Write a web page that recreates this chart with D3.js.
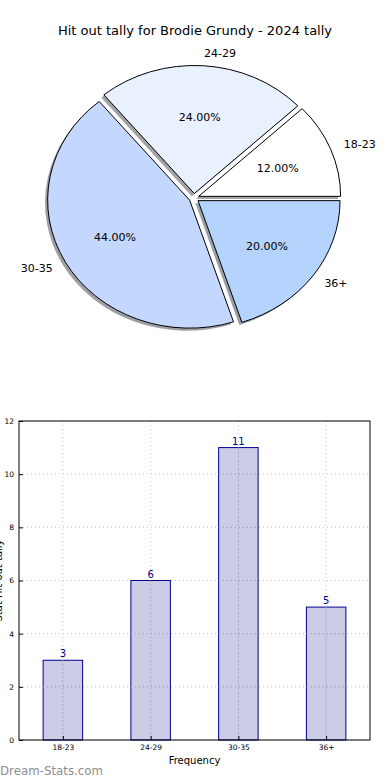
<!DOCTYPE html>
<html>
<head>
<meta charset="utf-8">
<script src="https://cdn.jsdelivr.net/npm/d3@7"></script>
<style>
  body { margin: 0; background: #fff; }
  svg { display: block; font-family: "DejaVu Sans", sans-serif; }
</style>
</head>
<body>
<svg id="chart" width="390" height="780"></svg>
<script>
const title = "Hit out tally for Brodie Grundy - 2024 tally";
const ageGroups = ["18-23", "24-29", "30-35", "36+"];
const hitOuts = [3, 6, 11, 5];
const sliceColors = ["#ffffff", "#e9f0fe", "#c4d7fe", "#b4d4fe"];
const yTicks = [0, 2, 4, 6, 8, 10, 12];

const svg = d3.select("#chart");
const total = d3.sum(hitOuts);

svg.append("text")
    .attr("x", 195)
    .attr("y", 35)
    .attr("text-anchor", "middle")
    .style("font-size", "13px")
    .text(title);

// ---- Pie (matplotlib style: starts at 3 o'clock, counter-clockwise, squashed)
const cx = 194, cy = 198, rx = 142, ry = 128, explode = 0.035;

const pie = d3.pie().sort(null)
    .startAngle(Math.PI / 2)
    .endAngle(Math.PI / 2 - 2 * Math.PI);

const arc = d3.arc().innerRadius(0).outerRadius(1);
const slices = pie(hitOuts);

const pieG = svg.append("g");

slices.forEach((d, i) => {
    const a = (d.startAngle + d.endAngle) / 2;
    const ox = cx + Math.sin(a) * explode * rx;
    const oy = cy - Math.cos(a) * explode * ry;
    const c = d3.rgb(sliceColors[i]);

    // shadow
    pieG.append("path")
        .attr("d", arc(d))
        .attr("transform", `translate(${ox - 2.6},${oy + 2.6}) scale(${rx},${ry})`)
        .attr("fill", d3.rgb(c.r * 0.3, c.g * 0.3, c.b * 0.3))
        .attr("fill-opacity", 0.5);

    pieG.append("path")
        .attr("d", arc(d))
        .attr("transform", `translate(${ox},${oy}) scale(${rx},${ry})`)
        .attr("fill", sliceColors[i])
        .attr("stroke", "#000")
        .attr("stroke-width", 1)
        .attr("vector-effect", "non-scaling-stroke");
});

slices.forEach((d, i) => {
    const a = (d.startAngle + d.endAngle) / 2;
    const ox = cx + Math.sin(a) * explode * rx;
    const oy = cy - Math.cos(a) * explode * ry;
    const lx = ox + Math.sin(a) * 1.1 * rx;
    const ly = oy - Math.cos(a) * 1.1 * ry;

    svg.append("text")
        .attr("x", lx)
        .attr("y", ly)
        .attr("dy", "0.35em")
        .attr("text-anchor", Math.sin(a) >= 0 ? "start" : "end")
        .style("font-size", "11px")
        .text(ageGroups[i]);

    svg.append("text")
        .attr("x", ox + Math.sin(a) * 0.6 * rx)
        .attr("y", oy - Math.cos(a) * 0.6 * ry)
        .attr("dy", "0.35em")
        .attr("text-anchor", "middle")
        .style("font-size", "11px")
        .text((hitOuts[i] / total * 100).toFixed(2) + "%");
});

// ---- Bar chart
const axLeft = 19, axRight = 370, axTop = 421, axBottom = 740;

const x = d3.scaleLinear().domain([-0.5, ageGroups.length - 0.5]).range([axLeft, axRight]);
const y = d3.scaleLinear().domain([0, 12]).range([axBottom, axTop]);
const barW = 0.45;

const grid = svg.append("g")
    .attr("stroke", "#c8c8c8")
    .attr("stroke-dasharray", "1,3");

yTicks.forEach(t => {
    grid.append("line")
        .attr("x1", axLeft).attr("x2", axRight)
        .attr("y1", y(t)).attr("y2", y(t));
});
ageGroups.forEach((g, i) => {
    grid.append("line")
        .attr("x1", x(i)).attr("x2", x(i))
        .attr("y1", axTop).attr("y2", axBottom);
});

svg.selectAll(".bar")
    .data(hitOuts)
    .enter()
    .append("rect")
    .attr("class", "bar")
    .attr("x", (d, i) => x(i - barW / 2))
    .attr("y", d => y(d))
    .attr("width", x(barW) - x(0))
    .attr("height", d => y(0) - y(d))
    .attr("fill", "rgba(0,0,128,0.2)")
    .attr("stroke", "#00008b")
    .attr("stroke-width", 1);

// grid drawn again over bars (matplotlib grid sits on top)
const grid2 = svg.append("g")
    .attr("stroke", "#a8a8b8")
    .attr("stroke-dasharray", "1,3");
ageGroups.forEach((g, i) => {
    grid2.append("line")
        .attr("x1", x(i)).attr("x2", x(i))
        .attr("y1", y(hitOuts[i])).attr("y2", axBottom);
});
yTicks.forEach(t => {
    hitOuts.forEach((v, i) => {
        if (t > 0 && t < v) {
            grid2.append("line")
                .attr("x1", x(i - barW / 2)).attr("x2", x(i + barW / 2))
                .attr("y1", y(t)).attr("y2", y(t));
        }
    });
});

svg.selectAll(".val")
    .data(hitOuts)
    .enter()
    .append("text")
    .attr("x", (d, i) => x(i))
    .attr("y", d => y(d) - 3)
    .attr("text-anchor", "middle")
    .attr("fill", "#00008b")
    .style("font-size", "10px")
    .text(d => d);

const yAxis = svg.append("g")
    .attr("transform", `translate(${axLeft},0)`)
    .call(d3.axisLeft(y).tickValues(yTicks).tickSize(-4).tickPadding(5).tickFormat(d3.format("d")));
yAxis.select(".domain").remove();
yAxis.selectAll("line").attr("stroke", "#000");
yAxis.selectAll("text").style("font-size", "7.5px").style("font-family", "DejaVu Sans");

const xAxis = svg.append("g")
    .attr("transform", `translate(0,${axBottom})`)
    .call(d3.axisBottom(x).tickValues(d3.range(ageGroups.length)).tickSize(-4).tickPadding(5)
        .tickFormat(i => ageGroups[i]));
xAxis.select(".domain").remove();
xAxis.selectAll("line").attr("stroke", "#000");
xAxis.selectAll("text").style("font-size", "7.5px").style("font-family", "DejaVu Sans");

svg.append("rect")
    .attr("x", axLeft).attr("y", axTop)
    .attr("width", axRight - axLeft).attr("height", axBottom - axTop)
    .attr("fill", "none")
    .attr("stroke", "#000")
    .attr("stroke-width", 1);

svg.append("text")
    .attr("x", (axLeft + axRight) / 2)
    .attr("y", 764)
    .attr("text-anchor", "middle")
    .style("font-size", "10px")
    .text("Frequency");

// y label sits mostly outside the canvas, as in the original
svg.append("text")
    .attr("transform", `translate(2,${(axTop + axBottom) / 2}) rotate(-90)`)
    .attr("text-anchor", "middle")
    .style("font-size", "10px")
    .text("Stat Hit out tally");

svg.append("text")
    .attr("x", 0)
    .attr("y", 775)
    .attr("fill", "#8e8e8e")
    .style("font-size", "11.8px")
    .text("Dream-Stats.com");
</script>
</body>
</html>
